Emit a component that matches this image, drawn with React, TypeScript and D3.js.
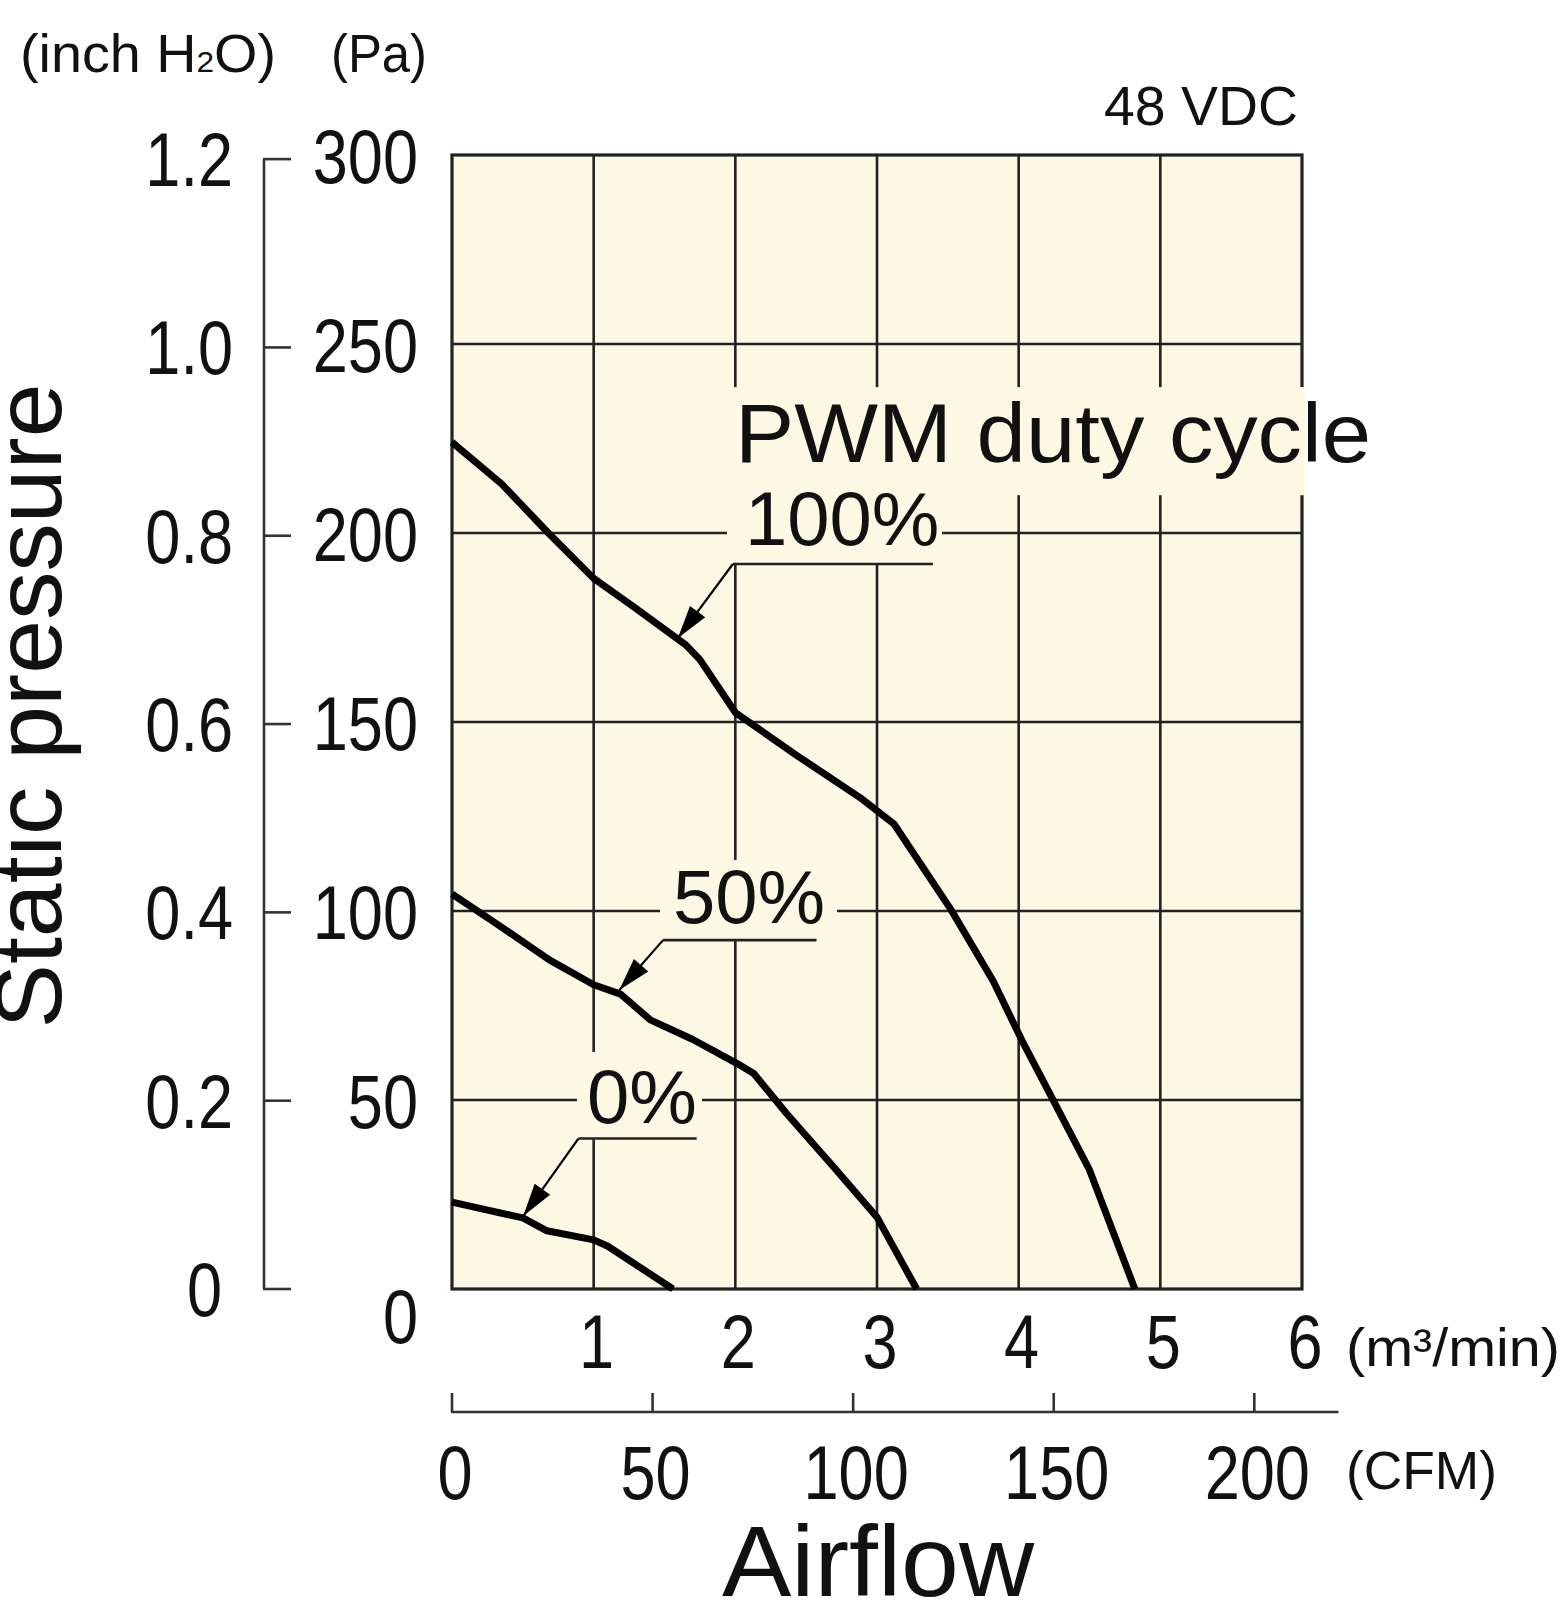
import * as d3 from "d3";

// airflow in m³/min, static pressure in Pa
const FLOW_TICKS = [1, 2, 3, 4, 5, 6];
const FLOW_GRID = [1, 2, 3, 4, 5];
const PA_TICKS = [0, 50, 100, 150, 200, 250, 300];
const PA_GRID = [50, 100, 150, 200, 250];
const INCH_TICKS = [0, 0.2, 0.4, 0.6, 0.8, 1.0, 1.2];
const INCH_LABELS = ["0", "0.2", "0.4", "0.6", "0.8", "1.0", "1.2"];
const CFM_TICKS = [0, 50, 100, 150, 200];

const PA_PER_INCH = 249.09;
const CFM_PER_M3 = 35.3147;

const duty100: [number, number][] = [
  [0, 224], [0.35, 213], [0.68, 200], [1.0, 188], [1.3, 180], [1.65, 170.4],
  [1.75, 166.5], [2.0, 152.5], [2.44, 141], [2.88, 130], [3.12, 123],
  [3.52, 100.5], [3.82, 81.5], [4.02, 66], [4.25, 49.5], [4.5, 31.5], [4.82, 0],
];
const duty50: [number, number][] = [
  [0, 104.5], [0.3, 97], [0.69, 87], [1.0, 80.5], [1.19, 78], [1.4, 71.2],
  [1.7, 66], [2.01, 59.7], [2.13, 57], [2.36, 46.5], [2.7, 32], [3.0, 19], [3.28, 0],
];
const duty0: [number, number][] = [
  [0, 23], [0.5, 18.8], [0.67, 15.4], [1.0, 13], [1.1, 11.3], [1.56, 0],
];

// callouts: text anchor, underline, arrow tip, cut-out box (all in data units)
const CALLOUTS = [
  { text: "100%", tx: 2.068, ty: 196.8, u0: 1.983, u1: 3.395, uy: 191.8, tipX: 1.595, tipY: 172.2, box: [1.941, 3.459, 191.8, 214.6] },
  { text: "50%", tx: 1.56, ty: 96.8, u0: 1.49, u1: 2.573, uy: 92.3, tipX: 1.181, tipY: 79.1, box: [1.468, 2.718, 92.3, 113.5] },
  { text: "0%", tx: 0.953, ty: 43.9, u0: 0.892, u1: 1.727, uy: 39.8, tipX: 0.503, tipY: 19.3, box: [0.882, 1.765, 39.9, 62.7] },
];

const BG = "#FBF8E4";
const INK = "#111";
const GRID = "#222";
const FONT = "'Liberation Sans', Arial, sans-serif";
const COND = 0.83;

function Cond({ x, y, anchor, size, children }: any) {
  return (
    <text
      transform={`translate(${x},${y}) scale(${COND},1)`}
      textAnchor={anchor}
      fontSize={size}
      fill={INK}
    >
      {children}
    </text>
  );
}

export default function App() {
  const width = 1563;
  const height = 1605;

  const x = d3.scaleLinear().domain([0, 6]).range([452, 1302]);
  const y = d3.scaleLinear().domain([0, 300]).range([1289, 155]);
  const line = d3
    .line<[number, number]>()
    .x((d) => x(d[0]))
    .y((d) => y(d[1]))
    .curve(d3.curveLinear);

  const [x0, x1] = x.range();
  const [yBottom, yTop] = y.range();
  const inchAxisX = 264;
  const cfmAxisY = 1412;
  const cfmX = (c: number) => x(c / CFM_PER_M3);

  const arrowHead = (sx: number, sy: number, tx: number, ty: number) => {
    const ang = Math.atan2(ty - sy, tx - sx);
    const len = 33;
    const hw = 9.5;
    const bx = tx - len * Math.cos(ang);
    const by = ty - len * Math.sin(ang);
    const px = -Math.sin(ang) * hw;
    const py = Math.cos(ang) * hw;
    return `${tx},${ty} ${bx + px},${by + py} ${bx - px},${by - py}`;
  };

  return (
    <svg
      width={width}
      height={height}
      style={{ position: "absolute", left: 0, top: 0, display: "block", background: "#fff" }}
      fontFamily={FONT}
    >
      {/* plot background */}
      <rect x={x0} y={yTop} width={x1 - x0} height={yBottom - yTop} fill={BG} />

      {/* grid */}
      {FLOW_GRID.map((v) => (
        <line key={`gx${v}`} x1={x(v)} x2={x(v)} y1={yTop} y2={yBottom} stroke={GRID} strokeWidth={2.6} />
      ))}
      {PA_GRID.map((p) => (
        <line key={`gy${p}`} x1={x0} x2={x1} y1={y(p)} y2={y(p)} stroke={GRID} strokeWidth={2.6} />
      ))}
      <rect x={x0} y={yTop} width={x1 - x0} height={yBottom - yTop} fill="none" stroke={GRID} strokeWidth={3.2} />

      {/* label cut-outs */}
      <rect x={x(1.955)} y={y(238.6)} width={x(6.02) - x(1.955)} height={y(210) - y(238.6)} fill={BG} />
      {CALLOUTS.map((c) => (
        <rect
          key={`b${c.text}`}
          x={x(c.box[0])}
          y={y(c.box[3])}
          width={x(c.box[1]) - x(c.box[0])}
          height={y(c.box[2]) - y(c.box[3])}
          fill={BG}
        />
      ))}

      {/* curves */}
      {[duty100, duty50, duty0].map((s, i) => (
        <path key={`c${i}`} d={line(s) ?? ""} fill="none" stroke="#000" strokeWidth={7} strokeLinejoin="round" />
      ))}

      {/* callouts */}
      {CALLOUTS.map((c) => {
        const sx = x(c.u0);
        const sy = y(c.uy);
        const tx = x(c.tipX);
        const ty = y(c.tipY);
        return (
          <g key={`c${c.text}`}>
            <line x1={sx} x2={x(c.u1)} y1={sy} y2={sy} stroke={GRID} strokeWidth={2.6} />
            <line x1={sx} y1={sy} x2={tx} y2={ty} stroke="#000" strokeWidth={2.2} />
            <polygon points={arrowHead(sx, sy, tx, ty)} fill="#000" />
            <text x={x(c.tx)} y={y(c.ty)} fontSize={76} fill={INK}>
              {c.text}
            </text>
          </g>
        );
      })}

      <text x={x(1.998)} y={y(218.8)} fontSize={84} fill={INK} textLength={636} lengthAdjust="spacingAndGlyphs">
        PWM duty cycle
      </text>

      <text x={x1 - 4} y={yTop - 30} fontSize={55} fill={INK} textAnchor="end" textLength={194} lengthAdjust="spacingAndGlyphs">
        48 VDC
      </text>

      {/* Pa labels */}
      {PA_TICKS.map((p) => (
        <Cond key={`pa${p}`} x={418} y={y(p) + (p === 0 ? 54 : 28)} anchor="end" size={76}>
          {p}
        </Cond>
      ))}

      {/* inch H2O axis */}
      <line x1={inchAxisX} x2={inchAxisX} y1={y(1.2 * PA_PER_INCH)} y2={yBottom} stroke="#333" strokeWidth={2.6} />
      {INCH_TICKS.map((t, i) => (
        <g key={`in${t}`}>
          <line
            x1={inchAxisX - 1}
            x2={inchAxisX + 27}
            y1={y(t * PA_PER_INCH)}
            y2={y(t * PA_PER_INCH)}
            stroke="#333"
            strokeWidth={2.6}
          />
          <Cond x={t === 0 ? 222 : 233} y={y(t * PA_PER_INCH) + 27} anchor="end" size={76}>
            {INCH_LABELS[i]}
          </Cond>
        </g>
      ))}

      <text x={20} y={72} fontSize={53} fill={INK} textLength={256} lengthAdjust="spacingAndGlyphs">
        (inch H<tspan fontSize={30}>2</tspan>O)
      </text>
      <text x={331} y={72} fontSize={53} fill={INK} textLength={96} lengthAdjust="spacingAndGlyphs">
        (Pa)
      </text>

      {/* m3/min labels */}
      {FLOW_TICKS.map((v) => (
        <Cond key={`fx${v}`} x={x(v) + 3} y={yBottom + 79} anchor="middle" size={76}>
          {v}
        </Cond>
      ))}
      <text x={1346} y={1366} fontSize={53} fill={INK} textLength={214} lengthAdjust="spacingAndGlyphs">
        (m³/min)
      </text>

      {/* CFM axis */}
      <line x1={cfmX(0) - 1} x2={cfmX(221)} y1={cfmAxisY} y2={cfmAxisY} stroke="#333" strokeWidth={2.6} />
      {CFM_TICKS.map((c) => (
        <g key={`cfm${c}`}>
          <line x1={cfmX(c)} x2={cfmX(c)} y1={cfmAxisY} y2={cfmAxisY - 19} stroke="#333" strokeWidth={2.6} />
          <Cond x={cfmX(c) + 3} y={cfmAxisY + 87} anchor="middle" size={76}>
            {c}
          </Cond>
        </g>
      ))}
      <text x={1346} y={1489} fontSize={53} fill={INK} textLength={151} lengthAdjust="spacingAndGlyphs">
        (CFM)
      </text>

      {/* axis titles */}
      <text x={(x0 + x1) / 2 + 1} y={1596} fontSize={100} textAnchor="middle" fill={INK} textLength={312} lengthAdjust="spacingAndGlyphs">
        Airflow
      </text>
      <text
        transform={`translate(61,706) rotate(-90)`}
        fontSize={94}
        textAnchor="middle"
        fill={INK}
        textLength={645}
        lengthAdjust="spacingAndGlyphs"
      >
        Static pressure
      </text>
    </svg>
  );
}
